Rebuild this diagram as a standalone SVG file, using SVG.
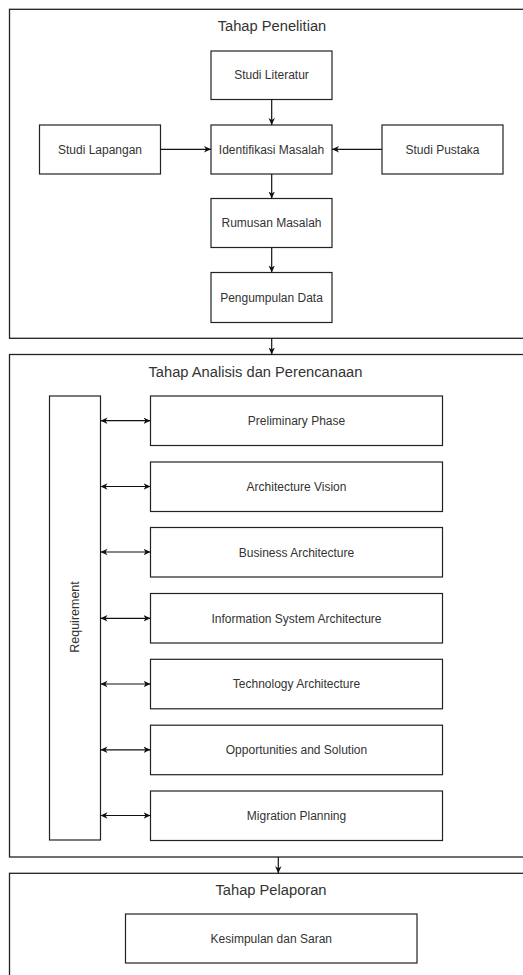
<svg xmlns="http://www.w3.org/2000/svg" width="523" height="975" viewBox="0 0 523 975">
<defs>
<marker id="arr" markerWidth="8" markerHeight="8" refX="7" refY="4" orient="auto-start-reverse" markerUnits="userSpaceOnUse">
<path d="M0,0.8 L7,4 L0,7.2 L2,4 Z" fill="#111"/>
</marker>
<style>
.frame{fill:none;stroke:#222;stroke-width:1.3}
.box{fill:#fff;stroke:#222;stroke-width:1.2}
.lbl{font-family:"Liberation Sans",Arial,sans-serif;font-size:12px;fill:#333;text-anchor:middle;dominant-baseline:central}
.ttl{font-family:"Liberation Sans",Arial,sans-serif;font-size:14.7px;fill:#333;text-anchor:middle}
.c{fill:none;stroke:#111;stroke-width:1.2}
</style>
</defs>
<rect width="523" height="975" fill="#fff"/>

<g id="tahap-penelitian">
<rect class="frame" x="9.5" y="9.3" width="530" height="329"/>
<text class="ttl" x="272" y="31">Tahap Penelitian</text>
</g>
<g id="tahap-analisis">
<rect class="frame" x="9.5" y="354.5" width="530" height="502.5"/>
<text class="ttl" x="255.5" y="377">Tahap Analisis dan Perencanaan</text>
</g>
<g id="tahap-pelaporan">
<rect class="frame" x="9.5" y="873.3" width="530" height="120"/>
<text class="ttl" x="271" y="895">Tahap Pelaporan</text>
</g>

<g id="studi-literatur"><rect class="box" x="211" y="51" width="121" height="48.5"/><text class="lbl" x="271.5" y="75.3">Studi Literatur</text></g>
<g id="studi-lapangan"><rect class="box" x="39.5" y="125" width="121" height="49"/><text class="lbl" x="100" y="149.5">Studi Lapangan</text></g>
<g id="identifikasi-masalah"><rect class="box" x="211" y="125" width="121" height="49"/><text class="lbl" x="271.5" y="149.5">Identifikasi Masalah</text></g>
<g id="studi-pustaka"><rect class="box" x="382" y="125" width="121" height="49"/><text class="lbl" x="442.5" y="149.5">Studi Pustaka</text></g>
<g id="rumusan-masalah"><rect class="box" x="211" y="198.5" width="121" height="49"/><text class="lbl" x="271.5" y="223">Rumusan Masalah</text></g>
<g id="pengumpulan-data"><rect class="box" x="211" y="272.5" width="121" height="50"/><text class="lbl" x="271.5" y="297.5">Pengumpulan Data</text></g>

<g id="requirement"><rect class="box" x="49.5" y="396" width="51" height="444"/><text class="lbl" style="font-size:12.5px" transform="translate(75,617) rotate(-90)">Requirement</text></g>
<g id="preliminary-phase"><rect class="box" x="150.5" y="396" width="292" height="49.5"/><text class="lbl" x="296.5" y="421">Preliminary Phase</text></g>
<g id="architecture-vision"><rect class="box" x="150.5" y="462" width="292" height="49.5"/><text class="lbl" x="296.5" y="487">Architecture Vision</text></g>
<g id="business-architecture"><rect class="box" x="150.5" y="527.5" width="292" height="49.5"/><text class="lbl" x="296.5" y="552.5">Business Architecture</text></g>
<g id="information-system-architecture"><rect class="box" x="150.5" y="593.5" width="292" height="49.5"/><text class="lbl" x="296.5" y="618.5">Information System Architecture</text></g>
<g id="technology-architecture"><rect class="box" x="150.5" y="659.3" width="292" height="49.5"/><text class="lbl" x="296.5" y="684">Technology Architecture</text></g>
<g id="opportunities-and-solution"><rect class="box" x="150.5" y="725.2" width="292" height="49.5"/><text class="lbl" x="296.5" y="750">Opportunities and Solution</text></g>
<g id="migration-planning"><rect class="box" x="150.5" y="791" width="292" height="49.5"/><text class="lbl" x="296.5" y="815.5">Migration Planning</text></g>

<g id="kesimpulan-dan-saran"><rect class="box" x="125.5" y="914" width="291.5" height="49"/><text class="lbl" x="271.3" y="938.5">Kesimpulan dan Saran</text></g>

<g id="connectors">
<line class="c" x1="271.7" y1="99.5" x2="271.7" y2="125" marker-end="url(#arr)"/>
<line class="c" x1="160.5" y1="149.3" x2="211" y2="149.3" marker-end="url(#arr)"/>
<line class="c" x1="382" y1="149.3" x2="332" y2="149.3" marker-end="url(#arr)"/>
<line class="c" x1="271.7" y1="174" x2="271.7" y2="198.5" marker-end="url(#arr)"/>
<line class="c" x1="271.7" y1="247.5" x2="271.7" y2="272.5" marker-end="url(#arr)"/>
<line class="c" x1="271.7" y1="338.3" x2="271.7" y2="354.5" marker-end="url(#arr)"/>
<line class="c" x1="100.5" y1="420.7" x2="150.5" y2="420.7" marker-start="url(#arr)" marker-end="url(#arr)"/>
<line class="c" x1="100.5" y1="486.5" x2="150.5" y2="486.5" marker-start="url(#arr)" marker-end="url(#arr)"/>
<line class="c" x1="100.5" y1="552" x2="150.5" y2="552" marker-start="url(#arr)" marker-end="url(#arr)"/>
<line class="c" x1="100.5" y1="618.3" x2="150.5" y2="618.3" marker-start="url(#arr)" marker-end="url(#arr)"/>
<line class="c" x1="100.5" y1="684" x2="150.5" y2="684" marker-start="url(#arr)" marker-end="url(#arr)"/>
<line class="c" x1="100.5" y1="749.8" x2="150.5" y2="749.8" marker-start="url(#arr)" marker-end="url(#arr)"/>
<line class="c" x1="100.5" y1="815.5" x2="150.5" y2="815.5" marker-start="url(#arr)" marker-end="url(#arr)"/>
<line class="c" x1="278.3" y1="857" x2="278.3" y2="873.3" marker-end="url(#arr)"/>
</g>
</svg>
